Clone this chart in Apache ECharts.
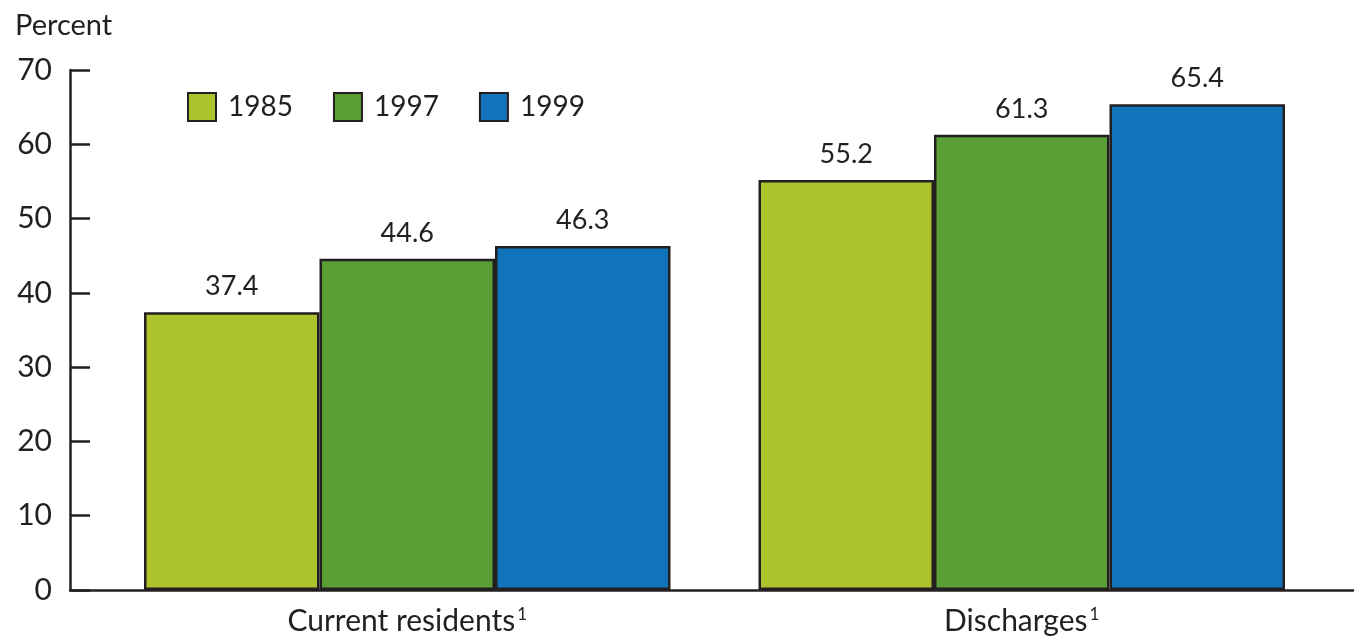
<!DOCTYPE html>
<html>
<head>
<meta charset="utf-8">
<script src="https://cdn.jsdelivr.net/npm/echarts@6/dist/echarts.min.js"></script>
<style>
  html, body { margin: 0; padding: 0; background: #fff; }
  #chart { width: 1358px; height: 642px; }
</style>
</head>
<body>
<div id="chart"></div>
<script>
// Groups along the horizontal axis and the yearly shares (percent)
const categories = ['Current residents', 'Discharges'];
const years = ['1985', '1997', '1999'];
const values1985 = [37.4, 55.2];
const values1997 = [44.6, 61.3];
const values1999 = [46.3, 65.4];
const yTicks = [0, 10, 20, 30, 40, 50, 60, 70];

const INK = '#231f20';
const FONT = 'Lato';
const colors = ['#adc32c', '#5a9e36', '#1174bb'];
const seriesValues = [values1985, values1997, values1999];

const chart = echarts.init(document.getElementById('chart'), null, { renderer: 'canvas' });

const series = years.map((y, i) => ({
  name: y,
  type: 'bar',
  xAxisIndex: 0,
  yAxisIndex: 0,
  data: seriesValues[i],
  barWidth: 175.5,
  barGap: '0%',
  itemStyle: { color: colors[i], borderColor: INK, borderWidth: 2.5 },
  label: {
    show: true,
    position: 'top',
    distance: 12,
    formatter: p => p.value.toFixed(1),
    color: INK,
    fontFamily: FONT,
    fontSize: 27
  },
  emphasis: { disabled: true }
}));

chart.setOption({
  animation: false,
  backgroundColor: '#fff',
  textStyle: { fontFamily: FONT, color: INK },
  title: {
    text: 'Percent',
    left: 15,
    top: 11,
    padding: 0,
    textStyle: { fontFamily: FONT, fontSize: 29, fontWeight: 'normal', color: INK }
  },
  legend: {
    data: years,
    left: 187,
    top: 92,
    padding: 0,
    itemWidth: 28,
    itemHeight: 28,
    itemGap: 40,
    icon: 'rect',
    textStyle: { fontFamily: FONT, fontSize: 28, color: INK, padding: [0, 0, 0, 7] }
  },
  grid: [
    // bars
    { left: 100, right: 29, top: 70, bottom: 52 },
    // full-width frame carrying the value axis and the baseline
    { left: 70, right: 5, top: 70, bottom: 52 }
  ],
  xAxis: [
    {
      type: 'category',
      gridIndex: 0,
      data: categories,
      axisLine: { show: false },
      axisTick: { show: false },
      axisLabel: {
        margin: 16,
        formatter: v => '{t|' + v + '}{s|1}',
        rich: {
          t: { fontFamily: FONT, fontSize: 30, color: INK },
          s: { fontFamily: FONT, fontSize: 17, color: INK, verticalAlign: 'top', padding: [0, 0, 0, 2] }
        }
      }
    },
    {
      type: 'value',
      gridIndex: 1,
      min: 0,
      max: 1,
      axisLine: { show: true, lineStyle: { color: INK, width: 2.5 } },
      axisTick: { show: false },
      axisLabel: { show: false },
      splitLine: { show: false }
    }
  ],
  yAxis: [
    {
      type: 'value',
      gridIndex: 0,
      min: 0,
      max: 70,
      interval: 10,
      show: false
    },
    {
      type: 'value',
      gridIndex: 1,
      min: yTicks[0],
      max: yTicks[yTicks.length - 1],
      interval: 10,
      axisLine: { show: true, lineStyle: { color: INK, width: 2.5 } },
      axisTick: { show: true, inside: true, length: 20, lineStyle: { color: INK, width: 2.5 } },
      axisLabel: { margin: 18, fontFamily: FONT, fontSize: 30, color: INK },
      splitLine: { show: false }
    }
  ],
  series: series
});
</script>
</body>
</html>
